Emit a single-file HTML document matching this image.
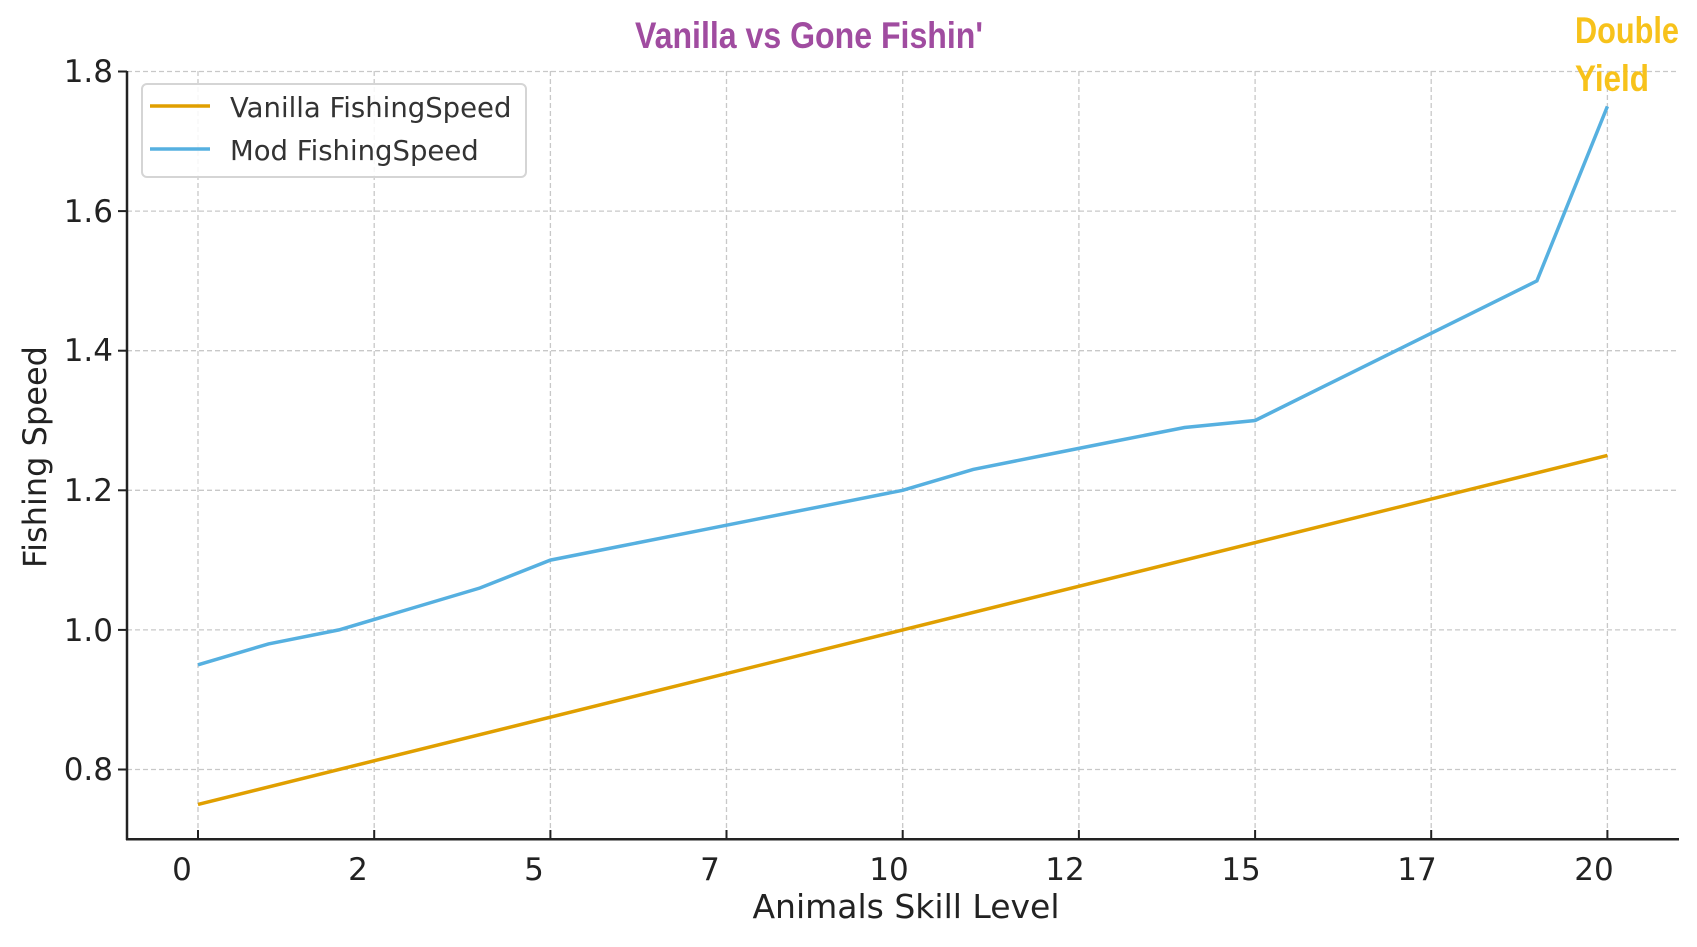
<!DOCTYPE html>
<html><head><meta charset="utf-8"><style>html,body{margin:0;padding:0;background:#fff}svg{display:block}</style></head><body>
<svg width="1697" height="947" viewBox="0 0 1697 947" xmlns="http://www.w3.org/2000/svg">
<rect width="1697" height="947" fill="#fff"/>
<g stroke="#c8c8c8" stroke-width="1.3" stroke-dasharray="5,3">
<line x1="198" y1="71" x2="198" y2="839"/><line x1="374.2" y1="71" x2="374.2" y2="839"/><line x1="550.4" y1="71" x2="550.4" y2="839"/><line x1="726.5" y1="71" x2="726.5" y2="839"/><line x1="902.7" y1="71" x2="902.7" y2="839"/><line x1="1078.9" y1="71" x2="1078.9" y2="839"/><line x1="1255.1" y1="71" x2="1255.1" y2="839"/><line x1="1431.2" y1="71" x2="1431.2" y2="839"/><line x1="1607.4" y1="71" x2="1607.4" y2="839"/>
<line x1="127" y1="769.5" x2="1679" y2="769.5"/><line x1="127" y1="629.9" x2="1679" y2="629.9"/><line x1="127" y1="490.3" x2="1679" y2="490.3"/><line x1="127" y1="350.7" x2="1679" y2="350.7"/><line x1="127" y1="211.1" x2="1679" y2="211.1"/><line x1="127" y1="71.5" x2="1679" y2="71.5"/>
</g>
<polyline fill="none" stroke="#e09f00" stroke-width="3.5" points="198,804.4 1607.4,455.4"/>
<polyline fill="none" stroke="#56b0e0" stroke-width="3.5" points="198,664.8 268.5,643.9 339,629.9 409.4,609 479.9,588 550.4,560.1 620.8,546.1 691.3,532.2 761.8,518.2 832.2,504.3 902.7,490.3 973.2,469.4 1043.6,455.4 1114.1,441.4 1184.6,427.5 1255.1,420.5 1325.5,385.6 1396,350.7 1466.5,315.8 1536.9,280.9 1607.4,106.4"/>
<g stroke="#222" stroke-width="2.5" fill="none">
<line x1="127" y1="71" x2="127" y2="840"/><line x1="126" y1="839.3" x2="1679" y2="839.3"/>
</g>
<g stroke="#222" stroke-width="2"><line x1="118" y1="769.5" x2="127" y2="769.5"/><line x1="118" y1="629.9" x2="127" y2="629.9"/><line x1="118" y1="490.3" x2="127" y2="490.3"/><line x1="118" y1="350.7" x2="127" y2="350.7"/><line x1="118" y1="211.1" x2="127" y2="211.1"/><line x1="118" y1="71.5" x2="127" y2="71.5"/>
<line x1="198" y1="830" x2="198" y2="839"/><line x1="374.2" y1="830" x2="374.2" y2="839"/><line x1="550.4" y1="830" x2="550.4" y2="839"/><line x1="726.5" y1="830" x2="726.5" y2="839"/><line x1="902.7" y1="830" x2="902.7" y2="839"/><line x1="1078.9" y1="830" x2="1078.9" y2="839"/><line x1="1255.1" y1="830" x2="1255.1" y2="839"/><line x1="1431.2" y1="830" x2="1431.2" y2="839"/><line x1="1607.4" y1="830" x2="1607.4" y2="839"/></g>
<g font-family="DejaVu Sans, Liberation Sans, sans-serif" font-size="31" fill="#222" text-anchor="end">
<text x="113" y="780">0.8</text><text x="113" y="641">1.0</text><text x="113" y="501">1.2</text><text x="113" y="361">1.4</text><text x="113" y="222">1.6</text><text x="113" y="82">1.8</text>
</g>
<g font-family="DejaVu Sans, Liberation Sans, sans-serif" font-size="31" fill="#222" text-anchor="middle">
<text x="182" y="880">0</text><text x="358" y="880">2</text><text x="534" y="880">5</text><text x="710" y="880">7</text><text x="889" y="880">10</text><text x="1065" y="880">12</text><text x="1241" y="880">15</text><text x="1417" y="880">17</text><text x="1594" y="880">20</text>
<text x="906" y="918" font-size="33">Animals Skill Level</text>
<text transform="translate(46,457) rotate(-90)" font-size="32">Fishing Speed</text>
</g>
<rect x="142" y="84" width="384" height="93" rx="5" fill="#fff" fill-opacity="0.85" stroke="#d5d5d5" stroke-width="2"/>
<line x1="150" y1="106" x2="210" y2="106" stroke="#e09f00" stroke-width="3.5"/>
<line x1="150" y1="149" x2="210" y2="149" stroke="#56b0e0" stroke-width="3.5"/>
<g font-family="DejaVu Sans, Liberation Sans, sans-serif" font-size="27.5" fill="#333">
<text x="230" y="117">Vanilla FishingSpeed</text><text x="230" y="160">Mod FishingSpeed</text>
</g>
<text x="635" y="48" font-family="Liberation Sans Narrow, Liberation Sans, sans-serif" font-weight="bold" font-size="37" fill="#a04ca0" textLength="348" lengthAdjust="spacingAndGlyphs">Vanilla vs Gone Fishin'</text>
<g font-family="Liberation Sans Narrow, Liberation Sans, sans-serif" font-weight="bold" font-size="37" fill="#f7c21b">
<text x="1575" y="43" textLength="104" lengthAdjust="spacingAndGlyphs">Double</text>
<text x="1575" y="91" textLength="74" lengthAdjust="spacingAndGlyphs">Yield</text>
</g>
</svg>
</body></html>
